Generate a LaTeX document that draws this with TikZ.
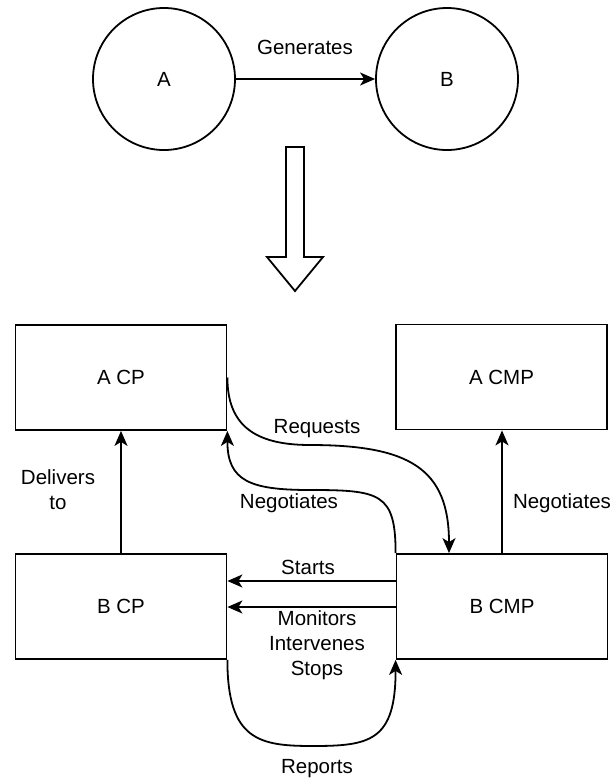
\documentclass[tikz,border=0pt]{standalone}
\usepackage{fontspec}
\setmainfont{Liberation Sans}
\usetikzlibrary{arrows.meta}
\begin{document}
\begin{tikzpicture}[x=1pt,y=-1pt,
  every node/.style={font=\fontsize{20.5}{25}\selectfont},
  line width=1.8pt,
  conn/.style={-{Stealth[length=15pt,width=13pt,inset=4pt]}},
  circ/.style={draw,circle,minimum size=142pt,inner sep=0pt},
  box/.style={draw,minimum width=211pt,minimum height=105pt,inner sep=0pt},
  lbl/.style={text height=14.7pt,text depth=0pt,inner sep=0pt},
  multi/.style={align=center,inner sep=0pt}]
\useasboundingbox (0,0) rectangle (615,780);
\fill[white] (0,0) rectangle (615,780);

% top: A generates B
\node[circ] (A) at (164,79) {A};
\node[circ] (B) at (447,79) {B};
\draw[conn] (A) -- (B);
\node[lbl] (gen) at (305,47) {Generates};

% hollow block arrow pointing down
\draw[line join=miter] (286,147) -- (304,147) -- (304,257) -- (323,257)
  -- (295,291) -- (267,257) -- (286,257) -- cycle;

% the four parties
\node[box] (acp)  at (121,377.5) {A CP};
\node[box] (acmp) at (501.5,377)   {A CMP};
\node[box] (bcp)  at (121,606.5) {B CP};
\node[box] (bcmp) at (502,606.5) {B CMP};

% connectors
\draw[conn] (bcp) -- (acp);
\draw[conn] (bcmp) -- (acmp.south -| bcmp.north);
\draw[conn] ([yshift=25.5pt]bcmp.west) -- ([yshift=25.5pt]bcp.east);
\draw[conn] ([yshift=-0.5pt]bcmp.west) -- ([yshift=-0.5pt]bcp.east);
\draw[conn] (acp.east) .. controls +(0,48) and +(-55,0) .. (310,445)
  .. controls +(100,0) and +(0,-84) .. ([xshift=-53pt]bcmp.north);
\draw[conn] (bcmp.north west) .. controls +(0,-60) and +(70,0) .. (310,490)
  .. controls +(-60,0) and +(0,50) .. (acp.south east);
\draw[conn] (bcp.south east) .. controls +(0,81) and +(-53,0) .. (313,746)
  .. controls +(57,0) and +(0,81) .. (bcmp.south west);

% connector labels
\node[lbl] (req) at (317,426) {Requests};
\node[lbl] (negl) at (289,501) {Negotiates};
\node[multi] (deliv) at (58,490) {Delivers\\to};
\node[lbl] (negr) at (562,501) {Negotiates};
\node[lbl] (starts) at (308,567) {Starts};
\node[multi] (mis) at (317,645) {Monitors\\Intervenes\\Stops};
\node[lbl] (rep) at (317,766) {Reports};
\end{tikzpicture}
\end{document}
